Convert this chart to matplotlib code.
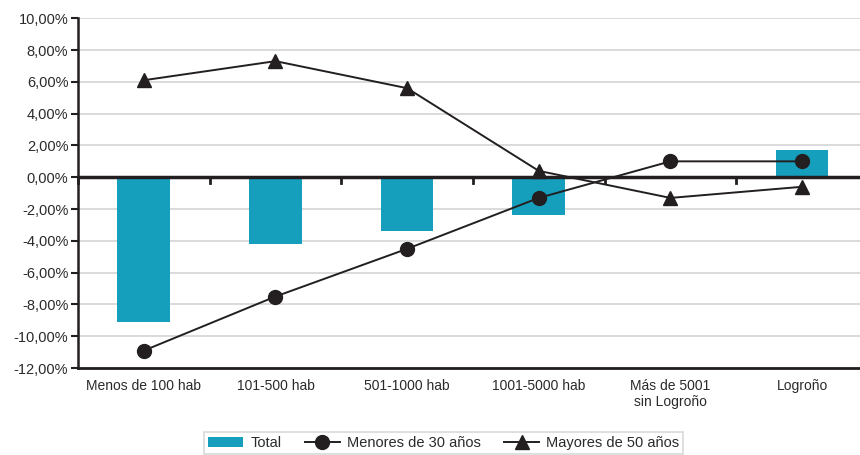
import matplotlib.pyplot as plt
from matplotlib.ticker import FuncFormatter

categorias = ["Menos de 100 hab", "101-500 hab", "501-1000 hab", "1001-5000 hab",
              "Más de 5001\nsin Logroño", "Logroño"]
total = [-9.1, -4.2, -3.4, -2.4, 0.0, 1.7]
menores_30 = [-10.9, -7.5, -4.5, -1.3, 1.0, 1.0]
mayores_50 = [6.1, 7.3, 5.6, 0.4, -1.3, -0.6]

plt.rcParams['font.family'] = ['Liberation Sans', 'DejaVu Sans']

fig = plt.figure(figsize=(8.6, 4.55), dpi=100)
ax = fig.add_axes([0.0907, 0.191, 0.9093, 0.769])

x = list(range(len(categorias)))
b1 = ax.bar(x, total, width=0.4, color='#159fbd', label='Total', zorder=2)
l1, = ax.plot(x, menores_30, color='#231f20', lw=1.4, marker='o', ms=10,
              label='Menores de 30 años', zorder=4)
l2, = ax.plot(x, mayores_50, color='#231f20', lw=1.4, marker='^', ms=10,
              label='Mayores de 50 años', zorder=4)

ax.axhline(0, color='#231f20', lw=2.5, zorder=3)
for b in range(len(categorias)):
    ax.plot([b - 0.5, b - 0.5], [0, -0.35], color='#231f20', lw=2, zorder=3,
            clip_on=False)

ax.set_xlim(-0.5, 5.44)
ax.set_ylim(-12, 10)
ax.set_yticks(range(-12, 11, 2))
ax.yaxis.set_major_formatter(FuncFormatter(lambda v, p: f"{v:.2f}%".replace('.', ',')))
ax.grid(axis='y', color='#d4d4d4', lw=1.2, zorder=0)
ax.set_axisbelow(True)

ax.set_xticks(x)
ax.set_xticklabels(categorias)
ax.tick_params(axis='x', length=0, pad=8, labelsize=10, colors='#2a2a2a')
ax.tick_params(axis='y', length=5, width=1.5, color='#231f20', labelsize=10.5,
               labelcolor='#2a2a2a', pad=2)
for s in ['top', 'right']:
    ax.spines[s].set_visible(False)
ax.spines['left'].set_linewidth(1.8)
ax.spines['left'].set_color('#231f20')
ax.spines['bottom'].set_linewidth(2)
ax.spines['bottom'].set_color('#231f20')

leg = fig.legend([b1, l1, l2], ['Total', 'Menores de 30 años', 'Mayores de 50 años'],
                 loc='upper center', bbox_to_anchor=(0.516, 0.066), ncol=3,
                 frameon=True, fancybox=False, fontsize=10.5, handlelength=2.4,
                 columnspacing=1.6, handletextpad=0.5, borderpad=0.25,
                 labelcolor='#2a2a2a')
leg.get_frame().set_edgecolor('#d0d0d0')
leg.get_frame().set_linewidth(1.2)

fig.savefig('out.png', dpi=100)
